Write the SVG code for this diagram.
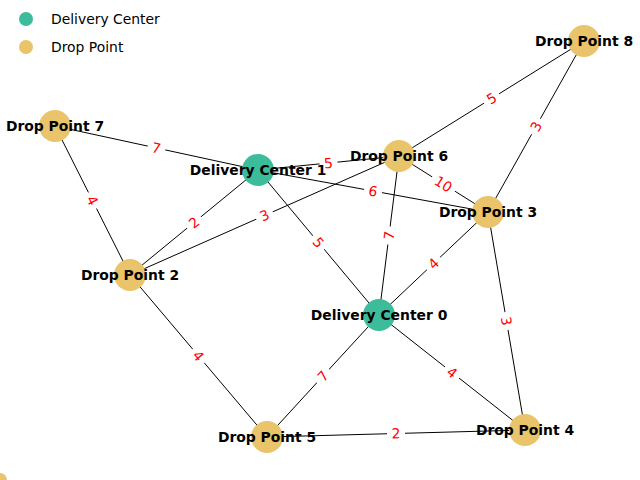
<svg xmlns="http://www.w3.org/2000/svg" width="640" height="480" viewBox="0 0 640 480">
<style>
.e{stroke:#000;stroke-width:1;fill:none}
.dc{fill:#3cbc9b}
.dp{fill:#e9c46a}
.nl{font-family:"DejaVu Sans",sans-serif;font-size:13.9px;font-weight:bold;fill:#000;text-anchor:middle;dominant-baseline:central}
.el{font-family:"DejaVu Sans",sans-serif;font-size:13.9px;fill:#ff0000;text-anchor:middle;dominant-baseline:central}
.lg{font-family:"DejaVu Sans",sans-serif;font-size:13.9px;fill:#000;dominant-baseline:central}
.bx{fill:#fff;stroke:#fff}
</style>
<rect width="640" height="480" fill="#fff"/>
<g id="edges">
<line class="e" x1="55" y1="126" x2="130" y2="275"/>
<line class="e" x1="55" y1="126" x2="258" y2="170"/>
<line class="e" x1="258" y1="170" x2="488" y2="212"/>
<line class="e" x1="258" y1="170" x2="399" y2="156"/>
<line class="e" x1="258" y1="170" x2="130" y2="275"/>
<line class="e" x1="258" y1="170" x2="379" y2="315"/>
<line class="e" x1="130" y1="275" x2="399" y2="156"/>
<line class="e" x1="399" y1="156" x2="584" y2="41"/>
<line class="e" x1="584" y1="41" x2="488" y2="212"/>
<line class="e" x1="399" y1="156" x2="488" y2="212"/>
<line class="e" x1="399" y1="156" x2="379" y2="315"/>
<line class="e" x1="488" y1="212" x2="379" y2="315"/>
<line class="e" x1="488" y1="212" x2="525" y2="430"/>
<line class="e" x1="379" y1="315" x2="525" y2="430"/>
<line class="e" x1="379" y1="315" x2="267" y2="437"/>
<line class="e" x1="130" y1="275" x2="267" y2="437"/>
<line class="e" x1="267" y1="437" x2="525" y2="430"/>
</g>
<g id="edge-labels">
<g transform="translate(92.5,200.5) rotate(63.3)"><rect class="bx" x="-8.5" y="-9" width="17" height="18" rx="3"/><text class="el">4</text></g>
<g transform="translate(156.5,148) rotate(12.2)"><rect class="bx" x="-8.5" y="-9" width="17" height="18" rx="3"/><text class="el">7</text></g>
<g transform="translate(373,191) rotate(10.3)"><rect class="bx" x="-8.5" y="-9" width="17" height="18" rx="3"/><text class="el">6</text></g>
<g transform="translate(328.5,163) rotate(-5.7)"><rect class="bx" x="-8.5" y="-9" width="17" height="18" rx="3"/><text class="el">5</text></g>
<g transform="translate(194,222.5) rotate(-39.4)"><rect class="bx" x="-8.5" y="-9" width="17" height="18" rx="3"/><text class="el">2</text></g>
<g transform="translate(318.5,242.5) rotate(50.2)"><rect class="bx" x="-8.5" y="-9" width="17" height="18" rx="3"/><text class="el">5</text></g>
<g transform="translate(264.5,215.5) rotate(-23.9)"><rect class="bx" x="-8.5" y="-9" width="17" height="18" rx="3"/><text class="el">3</text></g>
<g transform="translate(491.5,98.5) rotate(-31.9)"><rect class="bx" x="-8.5" y="-9" width="17" height="18" rx="3"/><text class="el">5</text></g>
<g transform="translate(536,126.5) rotate(-60.7)"><rect class="bx" x="-8.5" y="-9" width="17" height="18" rx="3"/><text class="el">3</text></g>
<g transform="translate(443.5,184) rotate(32.2)"><rect class="bx" x="-13" y="-9" width="26" height="18" rx="3"/><text class="el">10</text></g>
<g transform="translate(389,235.5) rotate(-82.8)"><rect class="bx" x="-8.5" y="-9" width="17" height="18" rx="3"/><text class="el">7</text></g>
<g transform="translate(433.5,263.5) rotate(-43.4)"><rect class="bx" x="-8.5" y="-9" width="17" height="18" rx="3"/><text class="el">4</text></g>
<g transform="translate(506.5,321) rotate(80.4)"><rect class="bx" x="-8.5" y="-9" width="17" height="18" rx="3"/><text class="el">3</text></g>
<g transform="translate(452,372.5) rotate(38.2)"><rect class="bx" x="-8.5" y="-9" width="17" height="18" rx="3"/><text class="el">4</text></g>
<g transform="translate(323,376) rotate(-47.4)"><rect class="bx" x="-8.5" y="-9" width="17" height="18" rx="3"/><text class="el">7</text></g>
<g transform="translate(198.5,356) rotate(49.8)"><rect class="bx" x="-8.5" y="-9" width="17" height="18" rx="3"/><text class="el">4</text></g>
<g transform="translate(396,433.5) rotate(-1.6)"><rect class="bx" x="-8.5" y="-9" width="17" height="18" rx="3"/><text class="el">2</text></g>
</g>
<g id="dc1"><circle class="dc" cx="258" cy="170" r="16"/><text class="nl" x="258" y="170">Delivery Center 1</text></g>
<g id="dc0"><circle class="dc" cx="379" cy="315" r="16"/><text class="nl" x="379" y="315">Delivery Center 0</text></g>
<g id="dp7"><circle class="dp" cx="55" cy="126" r="16"/><text class="nl" x="55" y="126">Drop Point 7</text></g>
<g id="dp6"><circle class="dp" cx="399" cy="156" r="16"/><text class="nl" x="399" y="156">Drop Point 6</text></g>
<g id="dp8"><circle class="dp" cx="584" cy="41" r="16"/><text class="nl" x="584" y="41">Drop Point 8</text></g>
<g id="dp3"><circle class="dp" cx="488" cy="212" r="16"/><text class="nl" x="488" y="212">Drop Point 3</text></g>
<g id="dp2"><circle class="dp" cx="130" cy="275" r="16"/><text class="nl" x="130" y="275">Drop Point 2</text></g>
<g id="dp5"><circle class="dp" cx="267" cy="437" r="16"/><text class="nl" x="267" y="437">Drop Point 5</text></g>
<g id="dp4"><circle class="dp" cx="525" cy="430" r="16"/><text class="nl" x="525" y="430">Drop Point 4</text></g>
<g id="extra"><circle class="dp" cx="0" cy="480" r="7"/></g>
<g id="legend">
<circle class="dc" cx="26" cy="19" r="7"/>
<text class="lg" x="51" y="19">Delivery Center</text>
<circle class="dp" cx="26" cy="47" r="7"/>
<text class="lg" x="51" y="47">Drop Point</text>
</g>
</svg>
